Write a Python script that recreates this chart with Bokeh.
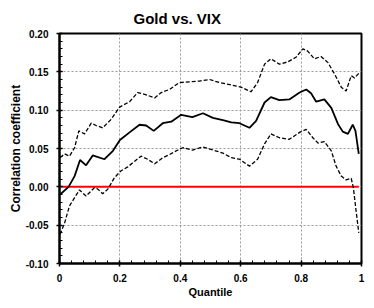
from bokeh.plotting import figure
from bokeh.models import FixedTicker, NumeralTickFormatter, Range1d
from bokeh.embed import file_html
from bokeh.resources import INLINE

# --- data ---
quantile_mid = [0.002, 0.03, 0.05, 0.068, 0.088, 0.11, 0.149, 0.177, 0.2, 0.232, 0.265, 0.287,
                0.312, 0.342, 0.37, 0.403, 0.44, 0.475, 0.508, 0.541, 0.569, 0.596, 0.629, 0.651,
                0.679, 0.7, 0.728, 0.761, 0.795, 0.817, 0.833, 0.85, 0.877, 0.9, 0.922, 0.938,
                0.955, 0.971, 0.98, 0.991]
corr_mid = [-0.010, 0.000, 0.014, 0.035, 0.028, 0.041, 0.036, 0.047, 0.061, 0.071, 0.081, 0.080,
            0.073, 0.083, 0.085, 0.094, 0.091, 0.096, 0.090, 0.087, 0.084, 0.083, 0.077, 0.086,
            0.110, 0.117, 0.113, 0.114, 0.123, 0.127, 0.122, 0.111, 0.114, 0.103, 0.082, 0.072,
            0.069, 0.081, 0.073, 0.043]

quantile_upper = [0.002, 0.017, 0.033, 0.05, 0.064, 0.083, 0.105, 0.121, 0.143, 0.171, 0.199, 0.232,
                  0.259, 0.287, 0.315, 0.337, 0.364, 0.397, 0.43, 0.464, 0.497, 0.53, 0.568, 0.601,
                  0.634, 0.656, 0.679, 0.7, 0.728, 0.756, 0.783, 0.806, 0.822, 0.844, 0.866, 0.889,
                  0.911, 0.933, 0.949, 0.966, 0.977, 0.991]
corr_upper = [0.038, 0.043, 0.040, 0.051, 0.073, 0.069, 0.083, 0.080, 0.077, 0.088, 0.104, 0.111,
              0.123, 0.120, 0.116, 0.123, 0.127, 0.136, 0.137, 0.138, 0.140, 0.136, 0.133, 0.130,
              0.124, 0.136, 0.160, 0.167, 0.160, 0.163, 0.169, 0.180, 0.177, 0.167, 0.170, 0.162,
              0.147, 0.130, 0.125, 0.145, 0.142, 0.148]

quantile_lower = [0.002, 0.017, 0.033, 0.05, 0.066, 0.088, 0.116, 0.127, 0.143, 0.16, 0.182, 0.204,
                  0.226, 0.248, 0.27, 0.292, 0.315, 0.342, 0.364, 0.392, 0.408, 0.441, 0.475, 0.508,
                  0.541, 0.569, 0.596, 0.629, 0.656, 0.679, 0.7, 0.728, 0.761, 0.795, 0.817, 0.839,
                  0.856, 0.877, 0.9, 0.916, 0.933, 0.949, 0.966, 0.973, 0.982, 0.991]
corr_lower = [-0.062, -0.047, -0.025, -0.014, -0.004, -0.012, -0.001, -0.003, -0.009, -0.003, 0.012, 0.021,
              0.026, 0.033, 0.040, 0.036, 0.030, 0.038, 0.042, 0.048, 0.051, 0.048, 0.052, 0.048,
              0.044, 0.038, 0.036, 0.027, 0.036, 0.056, 0.069, 0.064, 0.062, 0.071, 0.075, 0.064,
              0.057, 0.059, 0.047, 0.027, 0.014, 0.009, 0.011, -0.001, -0.031, -0.060]

zero_level = 0.0
x_ticks = [0, 0.2, 0.4, 0.6, 0.8, 1.0]
x_tick_labels = ["0", "0.2", "0.4", "0.6", "0.8", "1"]
y_ticks = [-0.10, -0.05, 0.0, 0.05, 0.10, 0.15, 0.20]

FONT = "Liberation Sans"

p = figure(frame_width=302, frame_height=230, output_backend="svg", toolbar_location=None,
           x_range=Range1d(0, 1), y_range=Range1d(-0.10, 0.20),
           min_border_left=59, min_border_right=4, min_border_top=30, min_border_bottom=32,
           title="Gold vs. VIX")

p.title.align = "left"
p.title.offset = 74
p.title.text_font = FONT
p.title.text_font_size = "15px"
p.title.text_font_style = "bold"
p.title.text_color = "black"
p.title.standoff = 14

p.outline_line_color = "black"
p.outline_line_width = 2
p.outline_line_alpha = 1.0

for ax in (p.xaxis[0], p.yaxis[0]):
    ax.axis_line_width = 2
    ax.axis_line_color = "black"
    ax.major_tick_in = 3
    ax.major_tick_out = 3
    ax.major_tick_line_width = 1.5
    ax.minor_tick_in = 3
    ax.minor_tick_out = 0
    ax.minor_tick_line_width = 1
    ax.major_label_text_font = FONT
    ax.major_label_text_font_size = "10px"
    ax.major_label_text_font_style = "bold"
    ax.major_label_text_color = "black"
    ax.axis_label_text_font = FONT
    ax.axis_label_text_font_style = "bold"
    ax.axis_label_text_color = "black"

p.xaxis.ticker = FixedTicker(ticks=x_ticks,
                             minor_ticks=[i * 0.04 for i in range(26)])
p.xaxis.major_label_overrides = {t: l for t, l in zip(x_ticks, x_tick_labels)}
p.xaxis.axis_label = "Quantile"
p.xaxis.axis_label_text_font_size = "11px"
p.xaxis.axis_label_standoff = 1
p.xaxis.major_label_standoff = 7

p.yaxis.ticker = FixedTicker(ticks=y_ticks,
                             minor_ticks=[-0.10 + i * 0.01 for i in range(31)])
p.yaxis.formatter = NumeralTickFormatter(format="0.00")
p.yaxis.axis_label = "Correlation coefficient"
p.yaxis.axis_label_text_font_size = "12px"
p.yaxis.axis_label_standoff = 0
p.yaxis.major_label_standoff = 8

for g in (p.xgrid[0], p.ygrid[0]):
    g.grid_line_color = "#9a9a9a"
    g.grid_line_dash = "2 2"
    g.grid_line_width = 1

p.line([0, quantile_mid[-1]], [zero_level, zero_level], line_color="#ff0000", line_width=2)
p.line(quantile_upper, corr_upper, line_color="black", line_width=1.3, line_dash="4 2")
p.line(quantile_lower, corr_lower, line_color="black", line_width=1.3, line_dash="4 2")
p.line(quantile_mid, corr_mid, line_color="black", line_width=1.8)

open("out.html", "w").write(file_html(p, INLINE))
